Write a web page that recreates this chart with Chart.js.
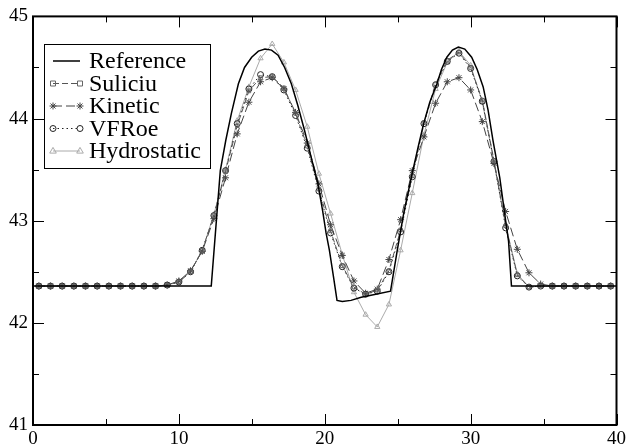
<!DOCTYPE html>
<html>
<head>
<meta charset="utf-8">
<script src="https://cdn.jsdelivr.net/npm/chart.js@4.4.1/dist/chart.umd.min.js"></script>
<style>
  html, body { margin: 0; padding: 0; background: #fff; }
  #c { display: block; }
</style>
</head>
<body>
<canvas id="c" width="629" height="448"></canvas>
<script>
'use strict';

// cell centres of the numerical schemes
const cellX = [0.4, 1.2, 2.0, 2.8, 3.6, 4.4, 5.2, 6.0, 6.8, 7.6,
  8.4, 9.2, 10.0, 10.8, 11.6, 12.4, 13.2, 14.0, 14.8, 15.6,
  16.4, 17.2, 18.0, 18.8, 19.6, 20.4, 21.2, 22.0, 22.8, 23.6,
  24.4, 25.2, 26.0, 26.8, 27.6, 28.4, 29.2, 30.0, 30.8, 31.6,
  32.4, 33.2, 34.0, 34.8, 35.6, 36.4, 37.2, 38.0, 38.8, 39.6];

const suliciu = [42.36, 42.36, 42.36, 42.36, 42.36, 42.36, 42.36, 42.36, 42.36, 42.36,
  42.36, 42.37, 42.40, 42.50, 42.71, 43.05, 43.48, 43.93, 44.27, 44.40,
  44.41, 44.30, 44.05, 43.73, 43.31, 42.90, 42.56, 42.35, 42.28, 42.32,
  42.51, 42.91, 43.44, 43.96, 44.34, 44.57, 44.65, 44.50, 44.18, 43.59,
  42.95, 42.47, 42.35, 42.36, 42.36, 42.36, 42.36, 42.36, 42.36, 42.36];

const kinetic = [42.36, 42.36, 42.36, 42.36, 42.36, 42.36, 42.36, 42.36, 42.36, 42.36,
  42.36, 42.37, 42.41, 42.51, 42.70, 43.02, 43.42, 43.85, 44.16, 44.36,
  44.40, 44.29, 44.06, 43.76, 43.36, 42.96, 42.66, 42.41, 42.29, 42.33,
  42.62, 43.01, 43.49, 43.82, 44.15, 44.36, 44.40, 44.28, 43.97, 43.56,
  43.09, 42.72, 42.49, 42.38, 42.36, 42.36, 42.36, 42.36, 42.36, 42.36];

const vfroe = [42.36, 42.36, 42.36, 42.36, 42.36, 42.36, 42.36, 42.36, 42.36, 42.36,
  42.36, 42.37, 42.40, 42.50, 42.71, 43.05, 43.49, 43.95, 44.29, 44.43,
  44.41, 44.28, 44.03, 43.71, 43.29, 42.88, 42.55, 42.34, 42.28, 42.31,
  42.50, 42.89, 43.43, 43.95, 44.33, 44.56, 44.64, 44.49, 44.17, 43.58,
  42.93, 42.46, 42.35, 42.36, 42.36, 42.36, 42.36, 42.36, 42.36, 42.36];

const hydrostatic = [42.36, 42.36, 42.36, 42.36, 42.36, 42.36, 42.36, 42.36, 42.36, 42.36,
  42.36, 42.37, 42.40, 42.50, 42.71, 43.06, 43.50, 43.98, 44.31, 44.59,
  44.73, 44.55, 44.28, 43.92, 43.46, 43.07, 42.67, 42.30, 42.08, 41.96,
  42.18, 42.71, 43.27, 43.84, 44.29, 44.55, 44.66, 44.52, 44.16, 43.57,
  42.96, 42.48, 42.35, 42.36, 42.36, 42.36, 42.36, 42.36, 42.36, 42.36];

// reference solution
const refX = [0, 12.22, 12.84, 13.22, 13.6, 14.08, 14.5, 14.99, 15.45, 15.9,
  16.35, 16.8, 17.25, 17.71, 18.15, 18.62, 19.07, 19.52, 19.85, 20.09,
  20.32, 20.6, 20.84, 21.2, 21.8, 22.5, 23.5, 24.51, 24.97, 25.42,
  25.99, 26.4, 26.78, 27.2, 27.69, 28.0, 28.37, 28.75, 29.16, 29.6,
  30.07, 30.45, 30.86, 31.2, 31.54, 32.0, 32.4, 32.6, 32.8, 40];
const refY = [42.36, 42.36, 43.49, 43.79, 44.05, 44.34, 44.50, 44.60, 44.66, 44.68,
  44.67, 44.62, 44.50, 44.34, 44.13, 43.88, 43.62, 43.37, 43.10, 42.88,
  42.71, 42.45, 42.22, 42.21, 42.22, 42.25, 42.28, 42.31, 42.71, 43.08,
  43.46, 43.72, 43.95, 44.16, 44.34, 44.48, 44.60, 44.67, 44.70, 44.68,
  44.60, 44.48, 44.31, 44.08, 43.78, 43.42, 43.00, 42.80, 42.36, 42.36];

const labels = ['Reference', 'Suliciu', 'Kinetic', 'VFRoe', 'Hydrostatic'];

const xMin = 0, xMax = 40, xStep = 5, xLabelEvery = 10;
const yMin = 41, yMax = 45, yStep = 0.5;

const serif = "'Liberation Serif', 'DejaVu Serif', serif";

function pts(xs, ys) {
  return xs.map((x, i) => ({ x: x, y: ys[i] }));
}

function marker(ctx, style, x, y, r) {
  ctx.beginPath();
  if (style === 'rect') {
    ctx.rect(x - r, y - r, 2 * r, 2 * r);
  } else if (style === 'circle') {
    ctx.arc(x, y, r, 0, Math.PI * 2);
  } else if (style === 'triangle') {
    ctx.moveTo(x, y - r * 1.2);
    ctx.lineTo(x + r * 1.1, y + r * 0.7);
    ctx.lineTo(x - r * 1.1, y + r * 0.7);
    ctx.closePath();
  } else if (style === 'star') {
    for (let k = 0; k < 4; k++) {
      const an = k * Math.PI / 4;
      ctx.moveTo(x + Math.cos(an) * r, y + Math.sin(an) * r);
      ctx.lineTo(x - Math.cos(an) * r, y - Math.sin(an) * r);
    }
  }
  ctx.stroke();
}

// frame + inward ticks on all four sides, like the original plot
const frameTicks = {
  id: 'frameTicks',
  afterDraw(chart) {
    const { ctx, chartArea: a, scales } = chart;
    ctx.save();
    ctx.strokeStyle = '#000';
    ctx.lineWidth = 1;
    ctx.beginPath();
    scales.x.ticks.forEach(t => {
      const px = Math.round(scales.x.getPixelForValue(t.value)) + 0.5;
      const len = t.value % xLabelEvery === 0 ? 11 : 6;
      ctx.moveTo(px, a.bottom); ctx.lineTo(px, a.bottom - len);
      ctx.moveTo(px, a.top); ctx.lineTo(px, a.top + len);
    });
    scales.y.ticks.forEach(t => {
      const py = Math.round(scales.y.getPixelForValue(t.value)) + 0.5;
      const len = Number.isInteger(t.value) ? 11 : 6;
      ctx.moveTo(a.left, py); ctx.lineTo(a.left + len, py);
      ctx.moveTo(a.right, py); ctx.lineTo(a.right - len, py);
    });
    ctx.stroke();
    ctx.lineWidth = 2;
    ctx.strokeRect(a.left, a.top, a.right - a.left, a.bottom - a.top);
    ctx.restore();
  }
};

// boxed legend with a marker at both ends of each line sample
const boxLegend = {
  id: 'boxLegend',
  afterDraw(chart) {
    const ctx = chart.ctx;
    const bx = 44, by = 44, bw = 166, bh = 124;
    ctx.save();
    ctx.fillStyle = '#fff';
    ctx.fillRect(bx, by, bw, bh);
    ctx.strokeStyle = '#000';
    ctx.lineWidth = 1;
    ctx.strokeRect(bx + 0.5, by + 0.5, bw, bh);
    ctx.font = '24px ' + serif;
    ctx.textBaseline = 'middle';
    chart.data.datasets.forEach((ds, i) => {
      const y = 61 + i * 22.5;
      ctx.strokeStyle = ds.borderColor;
      ctx.lineWidth = ds.borderWidth;
      ctx.setLineDash(ds.borderDash || []);
      ctx.beginPath();
      ctx.moveTo(53, y); ctx.lineTo(80, y);
      ctx.stroke();
      ctx.setLineDash([]);
      if (ds.pointRadius > 0) {
        ctx.strokeStyle = ds.pointBorderColor;
        ctx.lineWidth = 1;
        marker(ctx, ds.pointStyle, 53, y, ds.pointRadius);
        marker(ctx, ds.pointStyle, 80, y, ds.pointRadius);
      }
      ctx.fillStyle = '#000';
      ctx.fillText(ds.label, 89, y + 1);
    });
    ctx.restore();
  }
};

function scheme(label, ys, color, dash, style, r, markColor) {
  return {
    label: label,
    data: pts(cellX, ys),
    showLine: true,
    borderColor: color,
    borderWidth: 1,
    borderDash: dash,
    pointStyle: style,
    pointRadius: r,
    pointBorderColor: markColor,
    pointBackgroundColor: 'rgba(255,255,255,0)',
    pointBorderWidth: 1,
    pointHoverRadius: r,
    tension: 0
  };
}

new Chart(document.getElementById('c'), {
  type: 'scatter',
  data: {
    datasets: [
      {
        label: labels[0],
        data: pts(refX, refY),
        showLine: true,
        borderColor: '#000',
        borderWidth: 1.5,
        pointRadius: 0,
        tension: 0
      },
      scheme(labels[1], suliciu, '#555', [6, 3], 'rect', 2.5, '#666'),
      scheme(labels[2], kinetic, '#444', [9, 4], 'star', 3.5, '#444'),
      scheme(labels[3], vfroe, '#222', [1.5, 3], 'circle', 3, '#222'),
      scheme(labels[4], hydrostatic, '#aaa', [], 'triangle', 3, '#aaa')
    ]
  },
  options: {
    responsive: false,
    animation: false,
    devicePixelRatio: 1,
    layout: { padding: { top: 16, right: 8, left: 0, bottom: 0 } },
    plugins: {
      legend: { display: false },
      tooltip: { enabled: false }
    },
    scales: {
      x: {
        type: 'linear',
        min: xMin, max: xMax,
        grid: { display: false, drawTicks: false },
        border: { display: false },
        ticks: {
          stepSize: xStep,
          autoSkip: false,
          maxRotation: 0,
          padding: 3,
          color: '#000',
          font: { family: serif, size: 19 },
          callback: v => (v % xLabelEvery === 0 ? String(v) : '')
        },
        afterFit: s => { s.height = 23; }
      },
      y: {
        type: 'linear',
        min: yMin, max: yMax,
        grid: { display: false, drawTicks: false },
        border: { display: false },
        ticks: {
          stepSize: yStep,
          autoSkip: false,
          padding: 5,
          color: '#000',
          font: { family: serif, size: 19 },
          callback: v => (Number.isInteger(v) ? String(v) : '')
        },
        afterFit: s => { s.width = 33; }
      }
    }
  },
  plugins: [frameTicks, boxLegend]
});
</script>
</body>
</html>
